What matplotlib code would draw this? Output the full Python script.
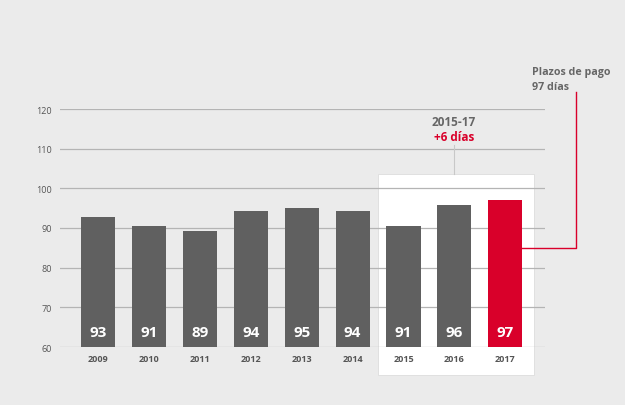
import matplotlib
matplotlib.use("Agg")
import matplotlib.pyplot as plt
from matplotlib.patches import Rectangle

years = ["2009", "2010", "2011", "2012", "2013", "2014", "2015", "2016", "2017"]
values = [92.8, 90.6, 89.3, 94.3, 95.0, 94.3, 90.6, 95.7, 97.0]
labels = ["93", "91", "89", "94", "95", "94", "91", "96", "97"]
yticks = [60, 70, 80, 90, 100, 110, 120]

BG = "#ebebeb"
GREY = "#606060"
RED = "#d9002a"
GRID = "#b4b4b4"

plt.rcParams['font.family'] = ['Open Sans', 'DejaVu Sans']

fig = plt.figure(figsize=(6.25, 4.06), dpi=100, facecolor=BG)
ax = fig.add_axes([60/625, 1-348/406, (545-60)/625, (348-110)/406])
ax.set_facecolor("none")
ax.set_xlim(-0.75, 8.78)
ax.set_ylim(60, 120)

# white highlight box (2015-2017)
box = Rectangle((5.50, 52.9), 3.07, 103.6-52.9, facecolor="white",
                edgecolor="#dddddd", linewidth=0.6, transform=ax.transData,
                clip_on=False, zorder=0)
ax.add_patch(box)

for yv in yticks:
    ax.axhline(yv, color=GRID, linewidth=0.9, zorder=1)

x = list(range(len(years)))
colors = [GREY] * (len(years) - 1) + [RED]
ax.bar(x, [v - 60 for v in values], bottom=60, width=0.67, color=colors, zorder=2)

for xi, lab in zip(x, labels):
    ax.text(xi, 63.9, lab, color="white", fontsize=11, fontweight="bold",
            ha="center", va="center", zorder=3)

ax.set_xticks(x)
ax.set_xticklabels(years, fontsize=6.5, fontweight="bold", color="#555555")
ax.set_yticks(yticks)
ax.set_yticklabels([str(t) for t in yticks], fontsize=6.5, color="#555555")
ax.tick_params(length=0, pad=5)
ax.tick_params(axis="y", pad=6)
for s in ax.spines.values():
    s.set_visible(False)

def fx(px):
    return px / 625
def fy(py):
    return 1 - py / 406

fig.add_artist(plt.Line2D([fx(454), fx(454)], [fy(146), fy(175)], color="#c8c8c8", linewidth=0.8))
fig.text(fx(454), fy(123), "2015-17", ha="center", va="center", fontsize=8.5,
         fontweight="bold", color="#666666")
fig.text(fx(454), fy(138), "+6 días", ha="center", va="center", fontsize=8.5,
         fontweight="bold", color=RED)

fig.add_artist(plt.Line2D([fx(522), fx(576), fx(576)], [fy(249), fy(249), fy(93)],
                          color=RED, linewidth=1.0))
fig.text(fx(532), fy(72), "Plazos de pago", ha="left", va="center", fontsize=7.7,
         fontweight="bold", color="#666666")
fig.text(fx(532), fy(87), "97 días", ha="left", va="center", fontsize=7.7,
         fontweight="bold", color="#666666")

fig.savefig("out.png", dpi=100, facecolor=BG)
